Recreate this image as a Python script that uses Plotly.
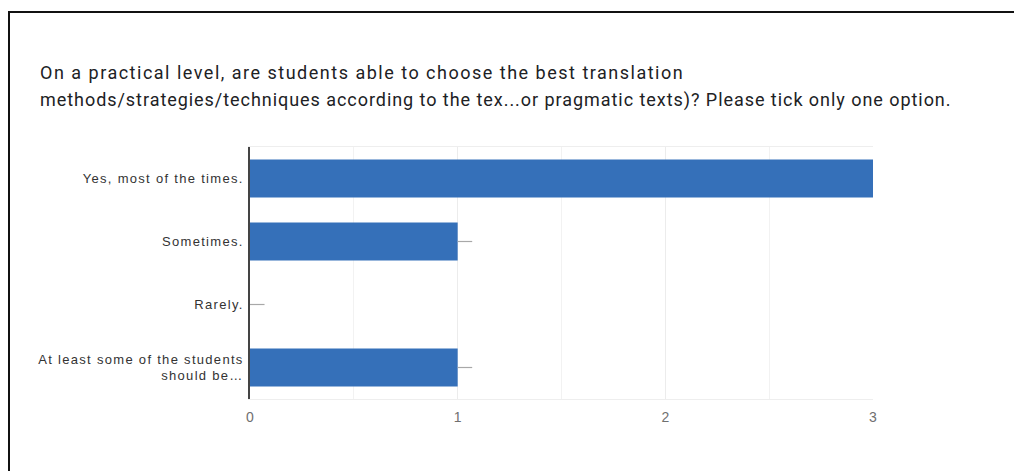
import plotly.graph_objects as go

# Survey responses
categories = [
    "Yes, most of the times.",
    "Sometimes.",
    "Rarely.",
    "At least some of the students<br>should be…",
]
counts = [3, 1, 0, 1]
x_ticks = [0, 1, 2, 3]

title_lines = [
    "On a practical level, are students able to choose the best translation",
    "methods/strategies/techniques according to the tex...or pragmatic texts)? Please tick only one option.",
]
title_spacing = [1.5, 0.95]

W, H = 1014, 471
L, R, T, B = 250, 141, 147, 72
pw, ph = W - L - R, H - T - B

def px_x(x):
    return (x - L) / pw

def px_y(y):
    return (H - B - y) / ph

def spaced(text, px):
    # widen the lettering with CSS letter-spacing
    parts = text.split("<br>")
    return "<br>".join(f'<span style="letter-spacing:{px}px">{p}</span>' for p in parts)

fig = go.Figure()
fig.add_trace(go.Bar(
    x=counts,
    y=categories,
    orientation="h",
    width=0.6,
    marker=dict(color="#3570b9", line=dict(width=0)),
    error_x=dict(type="data", symmetric=False, array=[0.07] * len(counts),
                 arrayminus=[0] * len(counts), color="#a8a8a8",
                 thickness=1.2, width=0),
    cliponaxis=True,
    hoverinfo="x+y",
))

fig.update_layout(
    width=W, height=H,
    margin=dict(l=L, r=R, t=T, b=B),
    paper_bgcolor="white",
    plot_bgcolor="white",
    showlegend=False,
    font=dict(family="Liberation Sans, Arial, sans-serif", size=12, color="#222222"),
    bargap=0.4,
)

fig.update_xaxes(
    range=[0, 3],
    tickvals=x_ticks,
    ticktext=[str(v) for v in x_ticks],
    tickfont=dict(size=14, color="#707070"),
    showgrid=True, gridcolor="#ececec", gridwidth=1,
    minor=dict(dtick=0.5, showgrid=True, gridcolor="#f2f2f2", gridwidth=1),
    showline=True, linecolor="#eeeeee", mirror=True,
    zeroline=False,
    ticks="", ticklabelstandoff=5,
    fixedrange=True,
)
fig.update_yaxes(
    categoryorder="array",
    categoryarray=categories[::-1],
    tickvals=categories,
    ticktext=[spaced(c, 1.3) for c in categories],
    showgrid=False,
    showline=True, linecolor="#444444", linewidth=1.5,
    ticks="", ticklabelstandoff=2,
    tickfont=dict(size=13, color="#333333"),
    zeroline=False,
    fixedrange=True,
)

# Title text, two lines
for i, line in enumerate(title_lines):
    fig.add_annotation(
        text=spaced(line, title_spacing[i]), xref="paper", yref="paper",
        x=px_x(38), y=px_y(60 + i * 27), xanchor="left", yanchor="top",
        showarrow=False, align="left",
        font=dict(family="Roboto, Open Sans, sans-serif", size=18, color="#202124"),
    )

# Frame around the card
frame = dict(color="#111111", width=2)
fig.add_shape(type="line", xref="paper", yref="paper",
              x0=px_x(9), x1=px_x(9), y0=px_y(12), y1=px_y(H + 5), line=frame)
fig.add_shape(type="line", xref="paper", yref="paper",
              x0=px_x(8), x1=px_x(W + 5), y0=px_y(12), y1=px_y(12), line=frame)

fig.write_html("out.html")
